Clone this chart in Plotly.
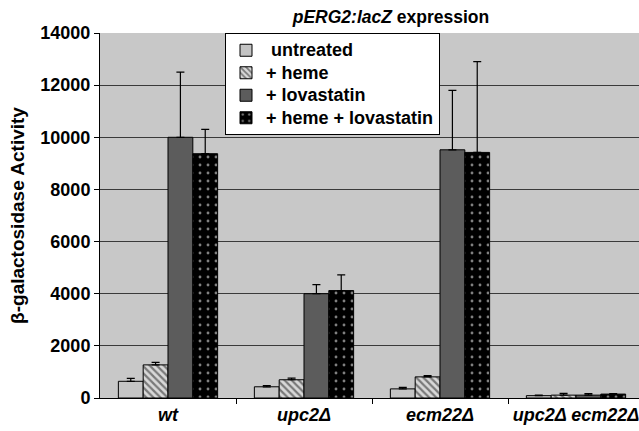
import plotly.graph_objects as go

categories = ["wt", "upc2Δ", "ecm22Δ", "upc2Δ ecm22Δ"]
series_names = ["untreated", "+ heme", "+ lovastatin", "+ heme + lovastatin"]
untreated = [640, 430, 350, 90]
heme = [1270, 700, 810, 110]
lovastatin = [10000, 4000, 9520, 110]
heme_lova = [9370, 4120, 9420, 150]
err_untreated = [110, 50, 60, 20]
err_heme = [100, 60, 50, 70]
err_lovastatin = [2500, 350, 2280, 60]
err_heme_lova = [930, 600, 3480, 20]
y_ticks = [0, 2000, 4000, 6000, 8000, 10000, 12000, 14000]
y_tick_labels = ["0", "2000", "4000", "6000", "8000", "10000", "12000", "14000"]
category_boundaries = [0.5, 1.5, 2.5]

values = [untreated, heme, lovastatin, heme_lova]
errors = [err_untreated, err_heme, err_lovastatin, err_heme_lova]
legend_labels = [" untreated", "+ heme", "+ lovastatin", "+ heme + lovastatin"]
fills = [
    dict(color="#c4c4c4", pattern=dict(shape="")),
    dict(color="#dcdcdc", pattern=dict(shape="\\", fgcolor="#1a1a1a", bgcolor="#d8d8d8", size=5, solidity=0.45)),
    dict(color="#5c5c5c", pattern=dict(shape="")),
    dict(color="#000000", pattern=dict(shape=".", fgcolor="#ffffff", bgcolor="#000000", size=8, solidity=0.1)),
]

fig = go.Figure()
x_idx = list(range(len(categories)))
for name, lab, vals, errs, f in zip(series_names, legend_labels, values, errors, fills):
    fig.add_trace(go.Bar(
        x=x_idx, y=vals, name=f'<span style="font-size:18px">{lab}</span>',
        marker=dict(color=f["color"], pattern=f["pattern"], line=dict(color="#000000", width=1)),
        error_y=dict(type="data", array=errs, arrayminus=[0] * len(errs), symmetric=False,
                     color="#000000", thickness=1.2, width=4),
    ))

plot_left, plot_right = 100, 639
plot_w = plot_right - plot_left
cat_w = 136.0

fig.update_layout(
    width=639, height=431,
    margin=dict(l=plot_left, r=0, t=33, b=33),
    paper_bgcolor="#ffffff",
    plot_bgcolor="#c8c8c8",
    barmode="group",
    bargap=0.27,
    bargroupgap=0,
    font=dict(family="Liberation Sans, Arial, sans-serif", color="#000000"),
    title=dict(text="<b><i>pERG2:lacZ</i> expression</b>", x=391 / 639, xanchor="center",
               y=1 - 17 / 431, yanchor="middle", font=dict(size=17.5)),
    legend=dict(x=(225 - plot_left) / plot_w, y=1.0, xanchor="left", yanchor="top", bgcolor="#ffffff",
                bordercolor="#000000", borderwidth=1, font=dict(size=15, weight="bold"),
                tracegroupgap=0, itemwidth=30),
    showlegend=True,
)
fig.update_xaxes(
    range=[-0.5, -0.5 + plot_w / cat_w],
    tickmode="array", tickvals=x_idx,
    ticktext=[f"<b><i>{c}</i></b>" for c in categories],
    tickfont=dict(size=18), ticklabeloverflow="allow",
    showgrid=False, showline=True, linecolor="#000000", linewidth=1,
    ticks="", ticklen=5,
    minor=dict(tickmode="array", tickvals=category_boundaries, ticks="outside", ticklen=5,
               tickcolor="#000000", showgrid=False),
    zeroline=False, automargin=False,
)
fig.update_yaxes(
    range=[0, 14000], tickmode="array", tickvals=y_ticks, ticktext=y_tick_labels,
    tickfont=dict(size=18, weight="bold"),
    showgrid=True, gridcolor="#3a3a3a", gridwidth=1,
    showline=True, linecolor="#000000", linewidth=1,
    ticks="outside", ticklen=5, tickcolor="#000000",
    zeroline=False, automargin=False,
    title=dict(text="<b>β-galactosidase Activity</b>", font=dict(size=19), standoff=10),
)

fig.write_html("out.html", post_script="document.body.style.margin='0';",
               config={"displayModeBar": False})
